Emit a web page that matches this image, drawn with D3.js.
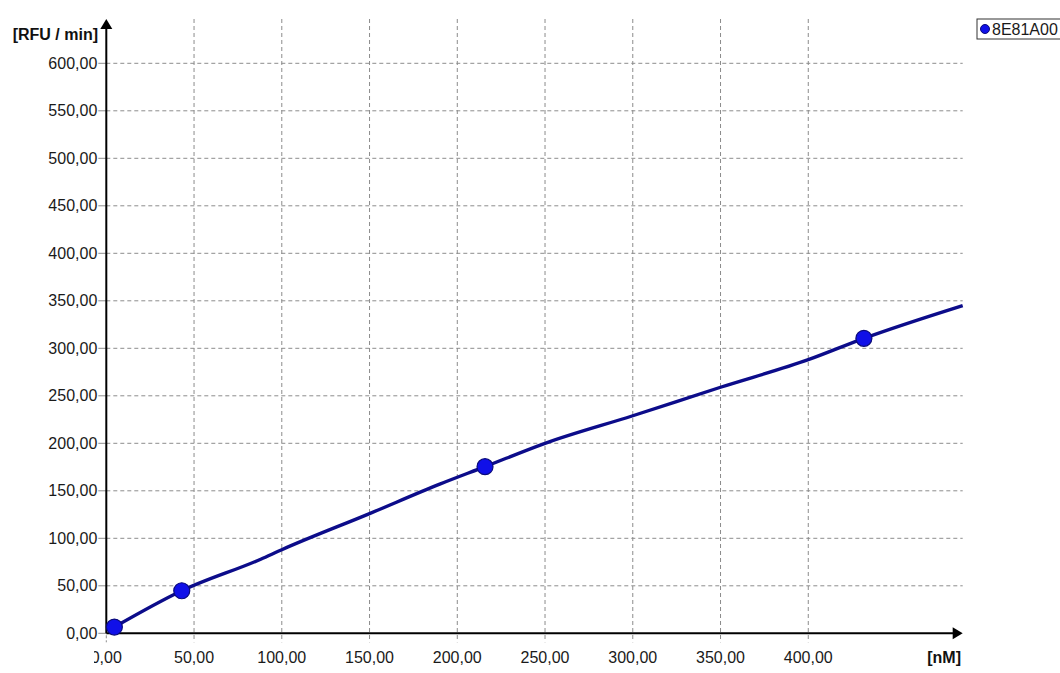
<!DOCTYPE html>
<html>
<head>
<meta charset="utf-8">
<script src="https://cdn.jsdelivr.net/npm/d3@7"></script>
<style>
  html, body { margin: 0; padding: 0; background: #ffffff; }
  svg { display: block; font-family: "Liberation Sans", Arial, sans-serif; }
</style>
</head>
<body>
<svg id="chart" width="1060" height="673"></svg>
<script>
// Measured wells: concentration [nM] and rate [RFU / min]
const conc = [4.6, 43.0, 215.8, 431.7];
const rate = [6.6, 44.8, 175.4, 310.5];

// Fitted calibration curve, sampled along its course
const fitConc = [4.6, 43.0, 88, 100, 150, 190, 215.8, 250, 300, 350, 400, 431.7, 488];
const fitRate = [6.6, 44.8, 78, 88, 126, 157, 175.4, 200, 229, 259, 288, 310.5, 345];

const xTicks = [0, 50, 100, 150, 200, 250, 300, 350, 400];
const yTicks = [0, 50, 100, 150, 200, 250, 300, 350, 400, 450, 500, 550, 600];

const seriesName = "8E81A00";
const xTitle = "[nM]";
const yTitle = "[RFU / min]";

const fmt = v => d3.format(".2f")(v).replace(".", ",");

const svg = d3.select("#chart");

const x0 = 106.3, x1 = 962.7, yBase = 633.3, y600 = 63.3, yTop = 19;
const x = d3.scaleLinear().domain([0, 488]).range([x0, x1]);
const y = d3.scaleLinear().domain([0, 600]).range([yBase, y600]);

const gridColor = "#8c8c8c";
const dash = "4,3";

// x tick labels are clipped near the left edge of the plot frame
svg.append("defs").append("clipPath").attr("id", "xlab-clip")
  .append("rect").attr("x", 94).attr("y", 640).attr("width", 900).attr("height", 33);

// horizontal grid
svg.append("g").selectAll("line")
  .data(yTicks.filter(d => d > 0))
  .join("line")
  .attr("x1", x0).attr("x2", x1)
  .attr("y1", d => y(d)).attr("y2", d => y(d))
  .attr("stroke", gridColor).attr("stroke-width", 1)
  .attr("stroke-dasharray", dash);

// vertical grid, running through the axis as tick marks
svg.append("g").selectAll("line")
  .data(xTicks.filter(d => d > 0))
  .join("line")
  .attr("x1", d => x(d)).attr("x2", d => x(d))
  .attr("y1", yTop).attr("y2", yBase + 9)
  .attr("stroke", gridColor).attr("stroke-width", 1)
  .attr("stroke-dasharray", dash);

// tick at origin below the x axis
svg.append("line")
  .attr("x1", x(0)).attr("x2", x(0))
  .attr("y1", yBase + 2).attr("y2", yBase + 9)
  .attr("stroke", gridColor).attr("stroke-dasharray", "3,2");

// y ticks
svg.append("g").selectAll("line")
  .data(yTicks)
  .join("line")
  .attr("x1", x0 - 8).attr("x2", x0)
  .attr("y1", d => y(d)).attr("y2", d => y(d))
  .attr("stroke", gridColor).attr("stroke-width", 1);

// tick labels
svg.append("g").selectAll("text")
  .data(yTicks)
  .join("text")
  .attr("x", x0 - 9)
  .attr("y", d => y(d))
  .attr("dy", "0.35em")
  .attr("text-anchor", "end")
  .attr("font-size", 16)
  .attr("fill", "#1a1a1a")
  .text(fmt);

svg.append("g")
  .attr("clip-path", "url(#xlab-clip)")
  .selectAll("text")
  .data(xTicks)
  .join("text")
  .attr("x", d => x(d))
  .attr("y", 663)
  .attr("text-anchor", "middle")
  .attr("font-size", 16)
  .attr("fill", "#1a1a1a")
  .text(fmt);

// axes with arrowheads
svg.append("line")
  .attr("x1", x0).attr("x2", x1 - 4)
  .attr("y1", yBase).attr("y2", yBase)
  .attr("stroke", "#000").attr("stroke-width", 2);
svg.append("path")
  .attr("d", `M${x1},${yBase} L${x1 - 10},${yBase - 6} L${x1 - 10},${yBase + 6} Z`)
  .attr("fill", "#000");

svg.append("line")
  .attr("x1", x0).attr("x2", x0)
  .attr("y1", yBase).attr("y2", yTop + 4)
  .attr("stroke", "#000").attr("stroke-width", 2);
svg.append("path")
  .attr("d", `M${x0},${yTop} L${x0 - 6},${yTop + 10} L${x0 + 6},${yTop + 10} Z`)
  .attr("fill", "#000");

// axis titles
svg.append("text")
  .attr("x", 98).attr("y", 40)
  .attr("text-anchor", "end")
  .attr("font-size", 16).attr("font-weight", "bold")
  .attr("fill", "#111")
  .text(yTitle);

svg.append("text")
  .attr("x", 961).attr("y", 663)
  .attr("text-anchor", "end")
  .attr("font-size", 16).attr("font-weight", "bold")
  .attr("fill", "#111")
  .text(xTitle);

// fitted curve
const fit = fitConc.map((c, i) => [c, fitRate[i]]);
svg.append("path")
  .datum(fit)
  .attr("d", d3.line().x(d => x(d[0])).y(d => y(d[1])).curve(d3.curveMonotoneX))
  .attr("fill", "none")
  .attr("stroke", "#0c0c8a")
  .attr("stroke-width", 3.4)
  .attr("stroke-linejoin", "round");

// measured points
svg.append("g").selectAll("circle")
  .data(conc.map((c, i) => [c, rate[i]]))
  .join("circle")
  .attr("cx", d => x(d[0]))
  .attr("cy", d => y(d[1]))
  .attr("r", 8)
  .attr("fill", "#1010e8")
  .attr("stroke", "#0a0a7a")
  .attr("stroke-width", 1.2);

// legend
const lg = svg.append("g").attr("transform", "translate(977,19)");
lg.append("rect")
  .attr("x", 0).attr("y", 0).attr("width", 100).attr("height", 20)
  .attr("fill", "#fff").attr("stroke", "#333").attr("stroke-width", 1);
lg.append("circle")
  .attr("cx", 8).attr("cy", 10).attr("r", 4.5)
  .attr("fill", "#1010e8").attr("stroke", "#0a0a7a");
lg.append("text")
  .attr("x", 15).attr("y", 10).attr("dy", "0.35em")
  .attr("font-size", 16).attr("fill", "#1a1a1a")
  .text(seriesName);
</script>
</body>
</html>
